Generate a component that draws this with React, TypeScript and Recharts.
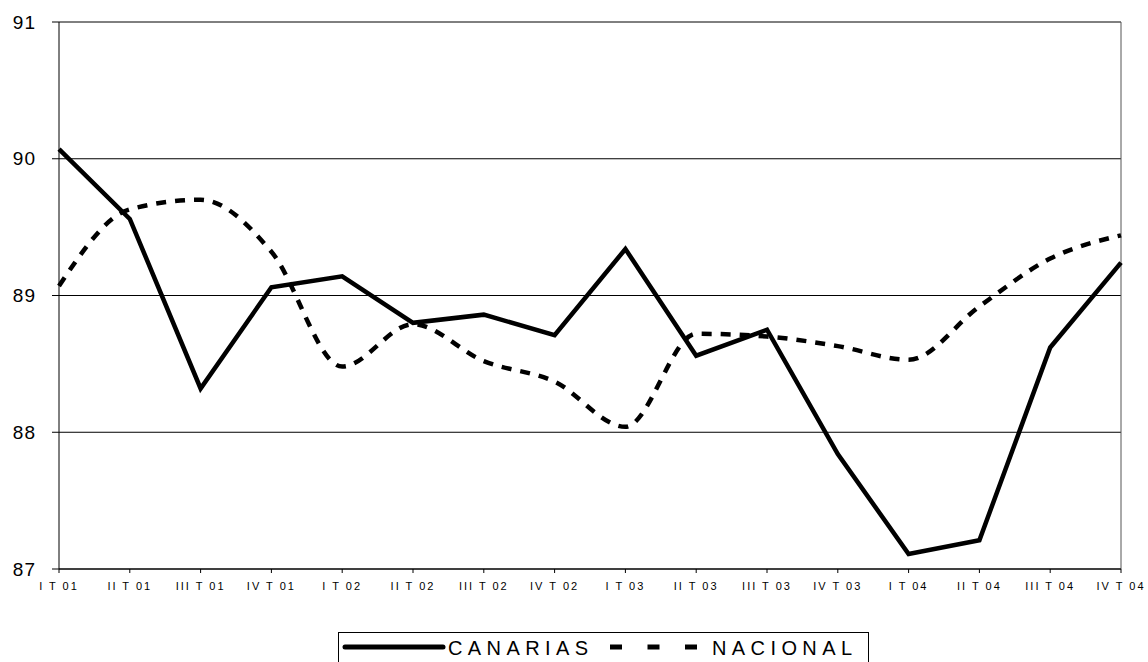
import { LineChart, Line, XAxis, YAxis, CartesianGrid, Legend, ReferenceLine } from 'recharts';

const quarters = [
  'I T 01', 'II T 01', 'III T 01', 'IV T 01',
  'I T 02', 'II T 02', 'III T 02', 'IV T 02',
  'I T 03', 'II T 03', 'III T 03', 'IV T 03',
  'I T 04', 'II T 04', 'III T 04', 'IV T 04',
];

const canarias = [90.07, 89.56, 88.32, 89.06, 89.14, 88.8, 88.86, 88.71, 89.34, 88.56, 88.75, 87.84, 87.11, 87.21, 88.62, 89.24];
const nacional = [89.07, 89.63, 89.7, 89.32, 88.48, 88.79, 88.52, 88.37, 88.04, 88.72, 88.7, 88.63, 88.53, 88.92, 89.27, 89.44];

const yTicks = [87, 88, 89, 90, 91];

const data = quarters.map((q, i) => ({ q, CANARIAS: canarias[i], NACIONAL: nacional[i] }));

const FONT = '"Liberation Sans", Arial, sans-serif';

// legend box: solid swatch + label, dashed swatch + label
function LegendBox({ payload }: any) {
  const items = payload || [];
  const solid = items.find((it: any) => it.dataKey === 'CANARIAS');
  const dashed = items.find((it: any) => it.dataKey === 'NACIONAL');
  const label = {
    position: 'absolute' as const,
    top: 5,
    fontFamily: FONT,
    fontSize: 20,
    lineHeight: '20px',
    letterSpacing: 5.4,
    color: '#000',
    whiteSpace: 'nowrap' as const,
  };
  return (
    <div
      style={{
        position: 'relative',
        border: '1px solid #000',
        height: 40,
        boxSizing: 'border-box',
        background: '#fff',
      }}
    >
      <svg width={531} height={30} style={{ position: 'absolute', left: 0, top: 0 }}>
        <line x1={6} x2={104} y1={14} y2={14} stroke="#000" strokeWidth={5} strokeLinecap="round" />
        <line x1={271} x2={359} y1={14} y2={14} stroke="#000" strokeWidth={5} strokeDasharray="12 25.5" />
      </svg>
      {solid && <span style={{ ...label, left: 109 }}>{solid.value}</span>}
      {dashed && <span style={{ ...label, left: 373 }}>{dashed.value}</span>}
    </div>
  );
}

export default function App() {
  return (
    <div style={{ position: 'absolute', left: 0, top: 0, background: '#fff' }}>
      <LineChart
        width={1148}
        height={662}
        data={data}
        margin={{ top: 22, right: 27, left: 0, bottom: 63 }}
      >
        <CartesianGrid vertical={false} stroke="#000" strokeWidth={1} />
        <XAxis
          dataKey="q"
          interval={0}
          height={30}
          axisLine={{ stroke: '#000' }}
          tickLine={{ stroke: '#000' }}
          tickSize={4}
          tickMargin={9}
          tick={{ fontSize: 11, fill: '#000', fontFamily: FONT, letterSpacing: 2 }}
        />
        <YAxis
          width={59}
          domain={[87, 91]}
          ticks={yTicks}
          interval={0}
          axisLine={{ stroke: '#000' }}
          tickLine={{ stroke: '#000' }}
          tickSize={7}
          tickMargin={16}
          tick={{ fontSize: 19, fill: '#000', fontFamily: FONT, letterSpacing: 1 }}
        />
        <ReferenceLine x={quarters[quarters.length - 1]} stroke="#555" strokeWidth={1} />
        <Legend
          layout="horizontal"
          verticalAlign="middle"
          align="center"
          content={<LegendBox />}
          wrapperStyle={{ left: 338, top: 632, width: 531, height: 40 }}
        />
        <Line
          dataKey="CANARIAS"
          type="linear"
          stroke="#000"
          strokeWidth={4.5}
          dot={false}
          isAnimationActive={false}
        />
        <Line
          dataKey="NACIONAL"
          type="monotone"
          stroke="#000"
          strokeWidth={4.5}
          strokeDasharray="10 9"
          dot={false}
          isAnimationActive={false}
        />
      </LineChart>
    </div>
  );
}
